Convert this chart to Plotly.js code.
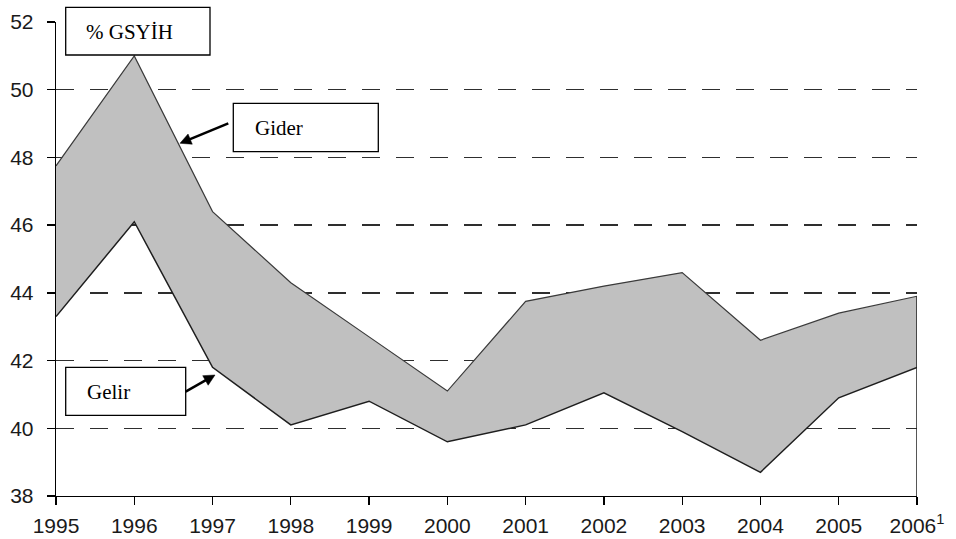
<!DOCTYPE html>
<html>
<head>
<meta charset="utf-8">
<script src="https://cdn.plot.ly/plotly-3.0.1.min.js"></script>
<style>
  html, body { margin: 0; padding: 0; background: #ffffff; }
  #chart { width: 956px; height: 539px; }
</style>
</head>
<body>
<div id="chart"></div>
<script>
// ---- data ----
const years = [1995, 1996, 1997, 1998, 1999, 2000, 2001, 2002, 2003, 2004, 2005, 2006];
const tickLabels = ['1995', '1996', '1997', '1998', '1999', '2000', '2001', '2002', '2003', '2004', '2005', '2006<sup>1</sup>'];
const gider = [47.75, 51.0, 46.4, 44.3, 42.7, 41.1, 43.75, 44.2, 44.6, 42.6, 43.4, 43.9];   // expenditure, % GDP
const gelir = [43.3, 46.1, 41.8, 40.1, 40.8, 39.6, 40.1, 41.05, 39.9, 38.7, 40.9, 41.8];    // revenue, % GDP
const yTicks = [38, 40, 42, 44, 46, 48, 50, 52];
const yRange = [38, 52];

const labelTexts = { unit: '% GSYİH', exp: 'Gider', rev: 'Gelir' };

const lastX = years[years.length - 1];
const lastGider = gider[gider.length - 1];

const traces = [
  {
    x: years, y: gider, type: 'scatter', mode: 'lines', name: 'Gider',
    line: { color: '#3a3a3a', width: 1.2 }, hoverinfo: 'skip'
  },
  {
    x: years, y: gelir, type: 'scatter', mode: 'lines', name: 'Gelir',
    fill: 'tonexty', fillcolor: '#c0c0c0',
    line: { color: '#1e1e1e', width: 1.5 }, hoverinfo: 'skip'
  }
];

// helpers for placing annotation boxes in paper coords from pixel positions
const L = 56, R = 39, T = 22, B = 43, W = 956, H = 539;
const pw = W - L - R, ph = H - T - B;
const px = v => (v - L) / pw;
const py = v => (H - B - v) / ph;

const boxLine = { color: '#000000', width: 1.3 };
function box(x0, y0, x1, y1) {
  return { type: 'rect', xref: 'paper', yref: 'paper', x0: px(x0), x1: px(x1), y0: py(y1), y1: py(y0),
           fillcolor: '#ffffff', line: boxLine, layer: 'above' };
}
const serif = { family: 'Liberation Serif', size: 21, color: '#000000' };
function label(text, x, y) {
  return { text: text, xref: 'paper', yref: 'paper', x: px(x), y: py(y), xanchor: 'left', yanchor: 'middle',
           showarrow: false, font: serif };
}
// arrow drawn as a line plus a filled triangular head (pixel positions -> paper coords)
function arrowShapes(headX, headY, tailX, tailY) {
  const dx = headX - tailX, dy = headY - tailY;
  const len = Math.hypot(dx, dy);
  const ux = dx / len, uy = dy / len;
  const hl = 11, hw = 5.5;
  const bx = headX - ux * hl, by = headY - uy * hl;
  const nx = -uy, ny = ux;
  const p = (x, y) => px(x) + ',' + py(y);
  return [
    { type: 'line', xref: 'paper', yref: 'paper', x0: px(tailX), y0: py(tailY), x1: px(bx + ux * 2), y1: py(by + uy * 2),
      line: { color: '#000000', width: 2.5 }, layer: 'above' },
    { type: 'path', xref: 'paper', yref: 'paper',
      path: 'M' + p(headX, headY) + ' L' + p(bx + nx * hw, by + ny * hw) + ' L' + p(bx - nx * hw, by - ny * hw) + ' Z',
      fillcolor: '#000000', line: { color: '#000000', width: 0.5 }, layer: 'above' }
  ];
}

const tickFont = { size: 21, color: '#1a1a1a', family: 'Liberation Sans' };

const layout = {
  width: W, height: H,
  margin: { l: L, r: R, t: T, b: B, pad: 0 },
  paper_bgcolor: '#ffffff', plot_bgcolor: '#ffffff',
  showlegend: false,
  font: { family: 'Liberation Sans', color: '#000000' },
  xaxis: {
    type: 'linear', range: [years[0], lastX], tickvals: years, ticktext: tickLabels,
    showgrid: false, zeroline: false, showline: true, linecolor: '#000000', linewidth: 1.3,
    ticks: 'outside', ticklen: 8, tickwidth: 1.3, tickcolor: '#000000',
    tickfont: tickFont, ticklabelstandoff: 2, fixedrange: true
  },
  yaxis: {
    range: yRange, tickvals: yTicks, ticktext: yTicks.map(String),
    showgrid: true, gridcolor: '#2e2e2e', gridwidth: 1.3, griddash: '18px,16px',
    zeroline: false, showline: true, linecolor: '#000000', linewidth: 1.3,
    ticks: 'outside', ticklen: 8, tickwidth: 1.3, tickcolor: '#000000',
    tickfont: tickFont, ticklabelstandoff: 9, fixedrange: true
  },
  shapes: [
    { type: 'line', xref: 'x', yref: 'y', x0: lastX, x1: lastX, y0: yRange[0], y1: lastGider,
      line: { color: '#1e1e1e', width: 1.5 }, layer: 'above' },
    box(65.7, 7.3, 210, 55),
    box(233.3, 103.3, 378.3, 151.7),
    box(65.7, 367.3, 185.7, 415.3)
  ].concat(arrowShapes(180, 143.3, 228.3, 123.3), arrowShapes(215, 375, 185.7, 391.7)),
  annotations: [
    label(labelTexts.unit, 84, 32),
    label(labelTexts.exp, 253, 128),
    label(labelTexts.rev, 85, 392)
  ]
};

Plotly.newPlot('chart', traces, layout, { staticPlot: true, displayModeBar: false });
</script>
</body>
</html>
